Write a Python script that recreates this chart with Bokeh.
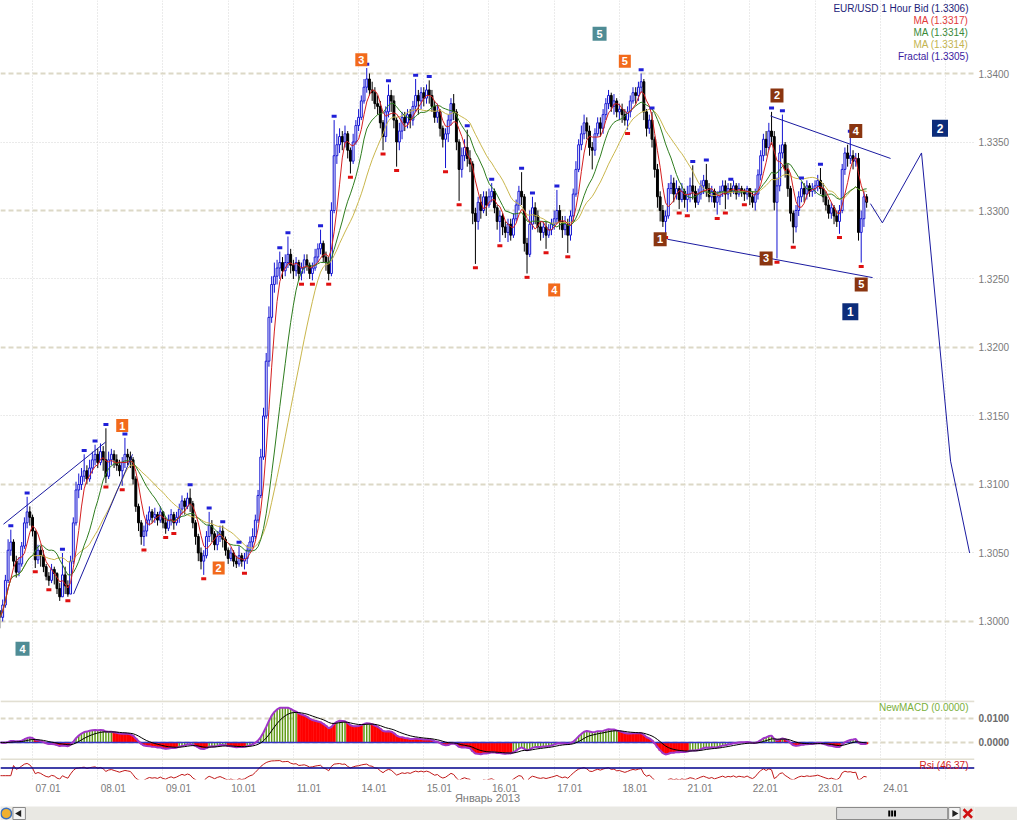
import numpy as np
import pandas as pd
from bokeh.plotting import figure
from bokeh.layouts import column
from bokeh.models import (Range1d, FixedTicker, Grid, Span, Label,
                          ColumnDataSource, PrintfTickFormatter,
                          CustomJSTickFormatter)
from bokeh.core.properties import value
from bokeh.embed import file_html
from bokeh.resources import INLINE

FONT = "Liberation Sans"

# ------------------------------------------------------------------ data
# EUR/USD, 1 hour bars. x = trading hours counted from 07.01 00:00
first_hour = -12
first_open = 1.3008

close = [
    1.3003, 1.3012, 1.3030, 1.3052, 1.3058, 1.3044, 1.3036, 1.3042, 1.3055, 1.3072, 1.3080, 1.3076,
    1.3066, 1.3045, 1.3052, 1.3048, 1.3040, 1.3033, 1.3030, 1.3038, 1.3035, 1.3024, 1.3018, 1.3034,
    1.3026, 1.3020, 1.3044, 1.3072, 1.3096, 1.3100, 1.3106, 1.3110, 1.3104, 1.3112, 1.3118, 1.3122,
    1.3116, 1.3124, 1.3118, 1.3106, 1.3118, 1.3122, 1.3118, 1.3114, 1.3110, 1.3116, 1.3122, 1.3120,
    1.3118, 1.3104, 1.3084, 1.3072, 1.3062, 1.3066, 1.3074, 1.3080, 1.3076, 1.3078, 1.3074, 1.3080,
    1.3072, 1.3068, 1.3074, 1.3078, 1.3072, 1.3076, 1.3082, 1.3088, 1.3084, 1.3090, 1.3086, 1.3072,
    1.3062, 1.3050, 1.3044, 1.3048, 1.3062, 1.3070, 1.3064, 1.3056, 1.3062, 1.3066, 1.3060, 1.3052,
    1.3046, 1.3050, 1.3044, 1.3042, 1.3048, 1.3044, 1.3046, 1.3052, 1.3058, 1.3062, 1.3074, 1.3092,
    1.3120, 1.3150, 1.3190, 1.3222, 1.3246, 1.3252, 1.3258, 1.3262, 1.3256, 1.3262, 1.3268, 1.3260,
    1.3256, 1.3262, 1.3254, 1.3258, 1.3264, 1.3260, 1.3254, 1.3258, 1.3266, 1.3272, 1.3276, 1.3266,
    1.3262, 1.3254, 1.3300, 1.3340, 1.3348, 1.3354, 1.3350, 1.3356, 1.3344, 1.3336, 1.3350, 1.3362,
    1.3368, 1.3380, 1.3390, 1.3396, 1.3388, 1.3386, 1.3378, 1.3376, 1.3364, 1.3354, 1.3372, 1.3384,
    1.3380, 1.3366, 1.3350, 1.3358, 1.3368, 1.3364, 1.3370, 1.3366, 1.3376, 1.3384, 1.3380, 1.3386,
    1.3382, 1.3388, 1.3384, 1.3376, 1.3368, 1.3372, 1.3360, 1.3352, 1.3356, 1.3366, 1.3378, 1.3372,
    1.3350, 1.3330, 1.3340, 1.3346, 1.3338, 1.3334, 1.3298, 1.3292, 1.3306, 1.3300, 1.3310, 1.3304,
    1.3310, 1.3314, 1.3302, 1.3292, 1.3296, 1.3288, 1.3284, 1.3290, 1.3282, 1.3294, 1.3304, 1.3314,
    1.3310, 1.3276, 1.3268, 1.3290, 1.3302, 1.3296, 1.3288, 1.3284, 1.3288, 1.3282, 1.3286, 1.3290,
    1.3294, 1.3300, 1.3292, 1.3286, 1.3290, 1.3282, 1.3296, 1.3312, 1.3330, 1.3348, 1.3356, 1.3364,
    1.3358, 1.3346, 1.3344, 1.3356, 1.3364, 1.3360, 1.3370, 1.3378, 1.3384, 1.3376, 1.3380, 1.3372,
    1.3374, 1.3370, 1.3366, 1.3372, 1.3380, 1.3386, 1.3384, 1.3390, 1.3394, 1.3372, 1.3360, 1.3366,
    1.3352, 1.3330, 1.3310, 1.3300, 1.3292, 1.3296, 1.3316, 1.3320, 1.3312, 1.3316, 1.3308, 1.3314,
    1.3308, 1.3312, 1.3318, 1.3314, 1.3306, 1.3312, 1.3318, 1.3322, 1.3316, 1.3310, 1.3314, 1.3306,
    1.3310, 1.3314, 1.3318, 1.3312, 1.3316, 1.3314, 1.3318, 1.3312, 1.3316, 1.3314, 1.3312, 1.3316,
    1.3310, 1.3306, 1.3312, 1.3326, 1.3340, 1.3352, 1.3346, 1.3358, 1.3354, 1.3306, 1.3318, 1.3342,
    1.3348, 1.3330, 1.3316, 1.3298, 1.3288, 1.3300, 1.3310, 1.3316, 1.3312, 1.3318, 1.3314, 1.3316,
    1.3318, 1.3322, 1.3316, 1.3310, 1.3304, 1.3298, 1.3302, 1.3296, 1.3292, 1.3300, 1.3330, 1.3342,
    1.3338, 1.3340, 1.3336, 1.3338, 1.3284, 1.3294, 1.3310, 1.3306,
]

high = [
    1.3008, 1.3016, 1.3034, 1.3060, 1.3067, 1.3060, 1.3048, 1.3047, 1.3058, 1.3076, 1.3091, 1.3084,
    1.3078, 1.3066, 1.3056, 1.3055, 1.3052, 1.3042, 1.3036, 1.3042, 1.3040, 1.3036, 1.3028, 1.3050,
    1.3040, 1.3030, 1.3048, 1.3076, 1.3102, 1.3108, 1.3112, 1.3122, 1.3114, 1.3118, 1.3124, 1.3129,
    1.3126, 1.3130, 1.3128, 1.3141, 1.3124, 1.3126, 1.3125, 1.3122, 1.3118, 1.3120, 1.3134, 1.3126,
    1.3124, 1.3120, 1.3106, 1.3086, 1.3074, 1.3070, 1.3078, 1.3084, 1.3082, 1.3083, 1.3080, 1.3084,
    1.3080, 1.3076, 1.3078, 1.3082, 1.3080, 1.3080, 1.3086, 1.3092, 1.3090, 1.3094, 1.3097, 1.3088,
    1.3074, 1.3064, 1.3054, 1.3052, 1.3066, 1.3080, 1.3074, 1.3066, 1.3066, 1.3070, 1.3070, 1.3062,
    1.3054, 1.3054, 1.3052, 1.3048, 1.3055, 1.3050, 1.3050, 1.3056, 1.3062, 1.3068, 1.3078, 1.3096,
    1.3126, 1.3156, 1.3196, 1.3230, 1.3252, 1.3262, 1.3264, 1.3270, 1.3266, 1.3268, 1.3281, 1.3272,
    1.3264, 1.3266, 1.3264, 1.3262, 1.3268, 1.3268, 1.3262, 1.3262, 1.3272, 1.3276, 1.3286, 1.3278,
    1.3270, 1.3266, 1.3306, 1.3366, 1.3356, 1.3360, 1.3358, 1.3362, 1.3358, 1.3346, 1.3356, 1.3366,
    1.3374, 1.3384, 1.3396, 1.3404, 1.3400, 1.3394, 1.3390, 1.3384, 1.3380, 1.3366, 1.3376, 1.3392,
    1.3388, 1.3384, 1.3368, 1.3364, 1.3372, 1.3372, 1.3374, 1.3374, 1.3380, 1.3396, 1.3388, 1.3390,
    1.3390, 1.3392, 1.3395, 1.3388, 1.3380, 1.3378, 1.3374, 1.3362, 1.3360, 1.3370, 1.3382, 1.3385,
    1.3374, 1.3352, 1.3346, 1.3352, 1.3359, 1.3344, 1.3336, 1.3302, 1.3310, 1.3312, 1.3314, 1.3314,
    1.3316, 1.3320, 1.3316, 1.3304, 1.3300, 1.3298, 1.3292, 1.3294, 1.3294, 1.3298, 1.3308, 1.3318,
    1.3328, 1.3312, 1.3280, 1.3300, 1.3310, 1.3306, 1.3300, 1.3292, 1.3292, 1.3292, 1.3290, 1.3294,
    1.3300, 1.3315, 1.3304, 1.3296, 1.3296, 1.3294, 1.3300, 1.3316, 1.3336, 1.3352, 1.3362, 1.3370,
    1.3368, 1.3362, 1.3350, 1.3360, 1.3368, 1.3368, 1.3374, 1.3382, 1.3388, 1.3386, 1.3385, 1.3382,
    1.3378, 1.3378, 1.3374, 1.3376, 1.3384, 1.3390, 1.3390, 1.3394, 1.3400, 1.3396, 1.3374, 1.3370,
    1.3372, 1.3354, 1.3334, 1.3314, 1.3304, 1.3300, 1.3320, 1.3326, 1.3324, 1.3322, 1.3318, 1.3320,
    1.3316, 1.3318, 1.3324, 1.3333, 1.3318, 1.3316, 1.3322, 1.3326, 1.3334, 1.3320, 1.3318, 1.3316,
    1.3314, 1.3318, 1.3322, 1.3322, 1.3320, 1.3320, 1.3322, 1.3320, 1.3320, 1.3318, 1.3316, 1.3318,
    1.3316, 1.3314, 1.3316, 1.3330, 1.3344, 1.3356, 1.3358, 1.3364, 1.3372, 1.3358, 1.3324, 1.3348,
    1.3370, 1.3350, 1.3334, 1.3318, 1.3300, 1.3304, 1.3314, 1.3321, 1.3320, 1.3322, 1.3320, 1.3320,
    1.3322, 1.3326, 1.3331, 1.3320, 1.3314, 1.3308, 1.3306, 1.3304, 1.3300, 1.3304, 1.3334, 1.3346,
    1.3348, 1.3355, 1.3344, 1.3342, 1.3342, 1.3300, 1.3314, 1.3312,
]

low = [
    1.2995, 1.3000, 1.3010, 1.3028, 1.3048, 1.3040, 1.3032, 1.3033, 1.3040, 1.3053, 1.3068, 1.3070,
    1.3062, 1.3039, 1.3042, 1.3040, 1.3036, 1.3030, 1.3026, 1.3028, 1.3027, 1.3020, 1.3015, 1.3018,
    1.3020, 1.3018, 1.3020, 1.3042, 1.3070, 1.3090, 1.3096, 1.3102, 1.3100, 1.3102, 1.3108, 1.3114,
    1.3112, 1.3114, 1.3110, 1.3101, 1.3104, 1.3114, 1.3112, 1.3110, 1.3106, 1.3099, 1.3112, 1.3114,
    1.3112, 1.3100, 1.3080, 1.3066, 1.3056, 1.3055, 1.3062, 1.3070, 1.3072, 1.3072, 1.3070, 1.3072,
    1.3068, 1.3064, 1.3066, 1.3070, 1.3067, 1.3070, 1.3072, 1.3078, 1.3078, 1.3082, 1.3080, 1.3068,
    1.3056, 1.3044, 1.3038, 1.3034, 1.3046, 1.3058, 1.3058, 1.3052, 1.3052, 1.3058, 1.3054, 1.3048,
    1.3042, 1.3044, 1.3040, 1.3039, 1.3040, 1.3040, 1.3038, 1.3042, 1.3050, 1.3054, 1.3060, 1.3072,
    1.3090, 1.3118, 1.3148, 1.3186, 1.3218, 1.3240, 1.3246, 1.3250, 1.3250, 1.3252, 1.3258, 1.3254,
    1.3250, 1.3252, 1.3249, 1.3249, 1.3254, 1.3256, 1.3250, 1.3249, 1.3256, 1.3262, 1.3268, 1.3262,
    1.3256, 1.3249, 1.3252, 1.3298, 1.3334, 1.3342, 1.3344, 1.3346, 1.3338, 1.3327, 1.3334, 1.3348,
    1.3358, 1.3366, 1.3378, 1.3386, 1.3384, 1.3380, 1.3374, 1.3370, 1.3360, 1.3344, 1.3350, 1.3368,
    1.3372, 1.3360, 1.3332, 1.3344, 1.3352, 1.3358, 1.3360, 1.3360, 1.3362, 1.3372, 1.3370, 1.3374,
    1.3376, 1.3378, 1.3378, 1.3372, 1.3364, 1.3364, 1.3354, 1.3346, 1.3331, 1.3350, 1.3362, 1.3366,
    1.3344, 1.3307, 1.3324, 1.3336, 1.3332, 1.3328, 1.3290, 1.3261, 1.3286, 1.3294, 1.3298, 1.3296,
    1.3302, 1.3306, 1.3298, 1.3286, 1.3277, 1.3282, 1.3280, 1.3277, 1.3278, 1.3280, 1.3292, 1.3300,
    1.3304, 1.3270, 1.3254, 1.3266, 1.3286, 1.3290, 1.3284, 1.3278, 1.3280, 1.3272, 1.3280, 1.3282,
    1.3286, 1.3290, 1.3286, 1.3280, 1.3282, 1.3269, 1.3278, 1.3292, 1.3310, 1.3328, 1.3344, 1.3352,
    1.3352, 1.3340, 1.3330, 1.3340, 1.3354, 1.3354, 1.3356, 1.3366, 1.3374, 1.3372, 1.3370, 1.3368,
    1.3366, 1.3364, 1.3362, 1.3359, 1.3368, 1.3378, 1.3378, 1.3380, 1.3386, 1.3366, 1.3354, 1.3356,
    1.3346, 1.3324, 1.3302, 1.3292, 1.3288, 1.3283, 1.3294, 1.3312, 1.3306, 1.3308, 1.3301, 1.3306,
    1.3302, 1.3299, 1.3306, 1.3308, 1.3302, 1.3304, 1.3308, 1.3312, 1.3310, 1.3306, 1.3306, 1.3302,
    1.3297, 1.3304, 1.3310, 1.3301, 1.3308, 1.3310, 1.3312, 1.3308, 1.3310, 1.3310, 1.3307, 1.3308,
    1.3304, 1.3302, 1.3300, 1.3308, 1.3322, 1.3336, 1.3340, 1.3344, 1.3348, 1.3300, 1.3265, 1.3314,
    1.3338, 1.3324, 1.3310, 1.3292, 1.3276, 1.3284, 1.3296, 1.3306, 1.3306, 1.3308, 1.3310, 1.3310,
    1.3312, 1.3314, 1.3312, 1.3306, 1.3300, 1.3294, 1.3294, 1.3290, 1.3288, 1.3283, 1.3298, 1.3326,
    1.3332, 1.3334, 1.3330, 1.3332, 1.3278, 1.3262, 1.3288, 1.3302,
]

day_labels = ["07.01", "08.01", "09.01", "10.01", "11.01", "14.01", "15.01",
              "16.01", "17.01", "18.01", "21.01", "22.01", "23.01", "24.01"]
day_hours = [0, 24, 48, 72, 96, 120, 144, 168, 192, 216, 240, 264, 288, 312, 336]
price_ticks = [1.3000, 1.3050, 1.3100, 1.3150, 1.3200, 1.3250, 1.3300, 1.3350, 1.3400]
price_major = [1.3000, 1.3100, 1.3200, 1.3300, 1.3400]
price_minor = [1.3050, 1.3150, 1.3250, 1.3350]

fractal_up_hours = [-8, -2, 11, 19, 23, 27, 34, 58, 65, 70, 76, 91, 94, 106, 111, 123,
                    131, 141, 146, 160, 169, 180, 184, 193, 224, 228, 243, 248, 257,
                    272, 276, 283, 290, 301]
fractal_down_hours = [1, 6, 13, 27, 33, 41, 49, 52, 63, 78, 99, 103, 109, 117, 129, 134,
                      152, 157, 163, 172, 182, 189, 197, 219, 233, 238, 241, 252, 255,
                      262, 274, 280, 297, 305]

# Elliott-wave counts
wave_hours = [33, 68.5, 121, 192, 218, 208.7, -3.7, 231, 274, 270, 303, 305, 301, 334]
wave_prices = [1.3143, 1.3039, 1.3410, 1.3242, 1.3409, 1.3429, 1.2980,
               1.3279, 1.3384, 1.3265, 1.3358, 1.3246, 1.3226, 1.3360]
wave_texts = ["1", "2", "3", "4", "5", "5", "4", "1", "2", "3", "4", "5", "1", "2"]
wave_degree = ["minor", "minor", "minor", "minor", "minor", "inter", "inter",
               "minute", "minute", "minute", "minute", "minute", "primary", "primary"]

# hand-drawn lines: (hours, prices)
trend_lines = [
    ([-10.7, 26.9], [1.3071, 1.3131]),
    ([15.1, 36.8], [1.3020, 1.3122]),
    ([271.6, 315.8], [1.3369, 1.3338]),
    ([233.7, 309.2], [1.3279, 1.3251]),
    ([308.4, 312.8, 327.2, 337.9, 344.9], [1.3305, 1.3291, 1.3342, 1.3117, 1.3050]),
]

legend_texts = ["EUR/USD 1 Hour Bid (1.3306)", "MA (1.3317)", "MA (1.3314)",
                "MA (1.3314)", "Fractal (1.3305)"]

# ------------------------------------------------------------------ derived
hours = np.arange(first_hour, first_hour + len(close))
c = np.array(close)
hi = np.array(high)
lo = np.array(low)
o = np.concatenate([[first_open], c[:-1]])
bull = c >= o

cs = pd.Series(c)
ma_red = cs.rolling(5, min_periods=1).mean().values
ma_green = cs.rolling(13, min_periods=1).mean().values
ma_olive = cs.rolling(21, min_periods=1).mean().values

# "NewMACD": fast EMA minus slow SMA, EMA signal line
ema_fast = cs.ewm(span=5, adjust=False).mean()
sma_slow = cs.rolling(34, min_periods=1).mean()
macd_s = ema_fast - sma_slow
signal = macd_s.ewm(span=9, adjust=False).mean().values
macd = macd_s.values

diff = cs.diff().fillna(0)
gain = diff.clip(lower=0).ewm(alpha=1 / 14, adjust=False).mean()
loss = (-diff.clip(upper=0)).ewm(alpha=1 / 14, adjust=False).mean()
rsi = (100 - 100 / (1 + gain / loss.replace(0, np.nan))).fillna(50).values

# ------------------------------------------------------------------ styles
BLUE = "#1414D2"
X0, X1 = -11.8, 346.7
W = 1017
RIGHT = 43
AX_COL = "#7a7a7a"
SEP = "#e2dfd2"

def base_fig(height, y_range, **kw):
    f = figure(width=W, height=height, x_range=Range1d(X0, X1), y_range=y_range,
               output_backend="svg", toolbar_location=None,
               min_border_left=0, min_border_top=0, min_border_bottom=0,
               min_border_right=RIGHT, outline_line_color=None,
               background_fill_color="white", border_fill_color="white", **kw)
    f.grid.grid_line_color = None
    f.add_layout(Grid(dimension=0, ticker=FixedTicker(ticks=day_hours),
                      grid_line_color="#d6d6d6", grid_line_dash="1 2", grid_line_width=1))
    return f

def style_yaxis(ax, ticks, fmt="%.4f", bold=False, color=AX_COL):
    ax.ticker = FixedTicker(ticks=ticks)
    ax.formatter = PrintfTickFormatter(format=fmt)
    ax.axis_line_color = None
    ax.major_tick_line_color = None
    ax.minor_tick_line_color = None
    ax.major_tick_out = 0
    ax.major_tick_in = 0
    ax.major_label_standoff = 4
    ax.major_label_text_font = FONT
    ax.major_label_text_font_size = "10px"
    ax.major_label_text_color = color
    if bold:
        ax.major_label_text_font_style = "bold"

# ------------------------------------------------------------------ main chart
p = base_fig(700, Range1d(1.29423, 1.34533), x_axis_location=None, y_axis_location="right")
style_yaxis(p.yaxis[0], price_ticks)
p.add_layout(Grid(dimension=1, ticker=FixedTicker(ticks=price_minor),
                  grid_line_color="#d4d4d4", grid_line_dash="1 2", grid_line_width=1))
p.add_layout(Grid(dimension=1, ticker=FixedTicker(ticks=price_major),
                  grid_line_color="#dcd8c6", grid_line_dash="5 3", grid_line_width=2))

src = ColumnDataSource(dict(
    x=hours, hi=hi, lo=lo,
    top=np.maximum(o, c), bot=np.minimum(o, c),
    line=[BLUE if b else "black" for b in bull],
    fill=["white" if b else "black" for b in bull],
))
p.segment(x0="x", y0="lo", x1="x", y1="hi", line_color="line", line_width=1, source=src)
p.vbar(x="x", width=0.7, top="top", bottom="bot", fill_color="fill",
       line_color="line", line_width=1, source=src)

p.line(hours, ma_olive, line_color="#c9b64c", line_width=1)
p.line(hours, ma_green, line_color="#2f7d1f", line_width=1)
p.line(hours, ma_red, line_color="#d42020", line_width=1)

idx = {h: i for i, h in enumerate(hours)}
fu = [idx[h] for h in fractal_up_hours]
fd = [idx[h] for h in fractal_down_hours]
p.rect(x=hours[fu], y=hi[fu] + 0.00028, width=5, height=3, width_units="screen",
       height_units="screen", fill_color="#2020d8", line_color=None)
p.rect(x=hours[fd], y=lo[fd] - 0.00028, width=5, height=3, width_units="screen",
       height_units="screen", fill_color="#e01010", line_color=None)

for xs, ys in trend_lines:
    p.line(xs, ys, line_color="#1a1aa0", line_width=1)

deg_color = {"minor": "#f26a1b", "inter": "#4f8c95", "minute": "#8a3510", "primary": "#0c2c7a"}
deg_size = {"minor": (12, 13), "inter": (14, 14), "minute": (13, 14), "primary": (16, 17)}
wsrc = ColumnDataSource(dict(
    x=wave_hours, y=wave_prices, t=wave_texts,
    col=[deg_color[d] for d in wave_degree],
    w=[deg_size[d][0] for d in wave_degree],
    h=[deg_size[d][1] for d in wave_degree],
    fs=["12px" if d == "primary" else "11px" for d in wave_degree],
))
p.rect(x="x", y="y", width="w", height="h", width_units="screen", height_units="screen",
       fill_color="col", line_color=None, source=wsrc)
p.text(x="x", y="y", text="t", text_color="white", text_font=value(FONT),
       text_font_style="bold", text_font_size="fs", text_align="center",
       text_baseline="middle", source=wsrc)

legend_colors = ["#1c1c78", "#e23a3a", "#3a8a3a", "#c4b450", "#3a1aa0"]
for i, (t, col) in enumerate(zip(legend_texts, legend_colors)):
    p.add_layout(Label(x=968, y=692 - 12 * i, x_units="screen", y_units="screen",
                       text=t, text_color=col, text_font=FONT, text_font_size="10px",
                       text_align="right", text_baseline="middle"))

# ------------------------------------------------------------------ MACD panel
pm = base_fig(58, Range1d(-0.00667, 0.0175), x_axis_location=None, y_axis_location="right")
style_yaxis(pm.yaxis[0], [0.0, 0.01], bold=True, color="#6a6a6a")
pm.add_layout(Grid(dimension=1, ticker=FixedTicker(ticks=[0.0, 0.01]),
                   grid_line_color="#dcd8c6", grid_line_dash="5 3", grid_line_width=2))
pm.add_layout(Span(location=0.0172, dimension="width", line_color=SEP, line_width=2))
green = macd >= signal
pm.vbar(x=hours[~green], top=macd[~green], bottom=0, width=1.0,
        fill_color="#ff0000", line_color="#ff0000", line_width=0.5)
pm.vbar(x=hours[green], top=macd[green], bottom=0, width=0.55,
        fill_color="#5f9b16", line_color=None)
pm.line([hours[0], hours[-1]], [0, 0], line_color="#3434c8", line_width=1.5)
pm.line(hours, macd, line_color="#a035c8", line_width=2)
pm.line(hours, signal, line_color="black", line_width=1)
pm.add_layout(Label(x=968, y=0.0146, x_units="screen", y_units="data",
                    text="NewMACD (0.0000)", text_color="#7bb03a", text_font=FONT,
                    text_font_size="10px", text_align="right", text_baseline="middle"))

# ------------------------------------------------------------------ RSI panel
pr = base_fig(48, Range1d(40, 95), y_axis_location="right")
pr.yaxis.visible = False
pr.add_layout(Span(location=94.0, dimension="width", line_color=SEP, line_width=2))
pr.add_layout(Span(location=70, dimension="width", line_color="#00008c", line_width=1.5))
pr.line(hours, rsi, line_color="#c01818", line_width=1)
pr.add_layout(Label(x=968, y=77.5, x_units="screen", y_units="data", text="Rsi (46.37)",
                    text_color="#d02020", text_font=FONT, text_font_size="10px",
                    text_align="right", text_baseline="middle"))
xa = pr.xaxis[0]
xa.ticker = FixedTicker(ticks=[h + 5.7 for h in day_hours[:len(day_labels)]])
xa.formatter = CustomJSTickFormatter(args=dict(labels=day_labels), code="""
    const i = Math.round((tick - 5.7) / 24);
    return (i >= 0 && i < labels.length) ? labels[i] : "";
""")
xa.axis_line_color = None
xa.major_tick_line_color = None
xa.minor_tick_line_color = None
xa.major_tick_out = 0
xa.major_tick_in = 0
xa.major_label_standoff = 4
xa.major_label_text_font = FONT
xa.major_label_text_font_size = "10px"
xa.major_label_text_color = AX_COL
xa.axis_label = "Январь 2013"
xa.axis_label_standoff = -3
xa.axis_label_text_font = FONT
xa.axis_label_text_font_size = "11px"
xa.axis_label_text_font_style = "normal"
xa.axis_label_text_color = AX_COL

# ------------------------------------------------------------------ scroll bar
ps = figure(width=W, height=14, x_range=Range1d(0, W), y_range=Range1d(0, 14),
            output_backend="svg", toolbar_location=None, min_border=0,
            x_axis_location=None, y_axis_location=None, outline_line_color=None,
            background_fill_color="#e9e8e3", border_fill_color="#e9e8e3")
ps.grid.grid_line_color = None
ps.circle(x=6, y=7, radius=5.5, fill_color="#f0b030", line_color="#3b6fc0", line_width=1.5)
ps.quad(left=13, right=26, bottom=1, top=13, fill_color="#f4f4f4", line_color="#8a8a8a")
ps.scatter(x=19.5, y=7, marker="triangle", size=7, angle=np.pi / 2,
           fill_color="#202020", line_color=None)
ps.quad(left=873, right=989, bottom=1, top=13, fill_color="#dedede", line_color="#8a8a8a")
ps.segment(x0=[928, 931, 934], y0=[4, 4, 4], x1=[928, 931, 934], y1=[10, 10, 10],
           line_color="black", line_width=2)
ps.quad(left=990, right=1002, bottom=1, top=13, fill_color="#f4f4f4", line_color="#8a8a8a")
ps.scatter(x=996, y=7, marker="triangle", size=7, angle=-np.pi / 2,
           fill_color="#202020", line_color=None)
ps.scatter(x=1010, y=7, marker="x", size=12, line_color="#d01010", line_width=2.5)

layout = column(p, pm, pr, ps, spacing=0)
html = file_html(layout, INLINE, title="EUR/USD 1 Hour")
html = html.replace("<body>", '<body style="margin:0;overflow:hidden;background:white">', 1)
open("out.html", "w").write(html)
